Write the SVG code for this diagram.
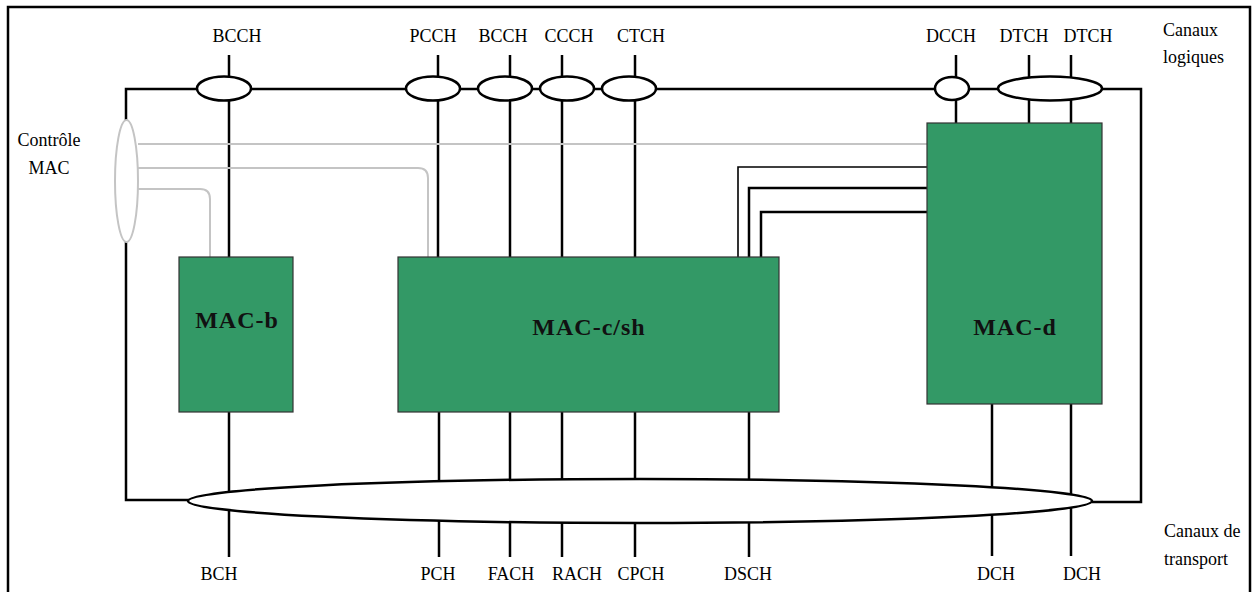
<svg xmlns="http://www.w3.org/2000/svg" width="1254" height="592" viewBox="0 0 1254 592">
<style>
.ln{stroke:#000;stroke-width:2.5;fill:none}
.thin{stroke:#000;stroke-width:1.6;fill:none}
.gr{stroke:#c4c4c4;stroke-width:2;fill:none}
.ell{stroke:#000;stroke-width:2.5;fill:#fff}
.box{fill:#339966;stroke:#333;stroke-width:1.2}
.lbl{font-family:"Liberation Serif",serif;font-size:18px;fill:#000;text-anchor:middle}
.side{font-family:"Liberation Serif",serif;font-size:18px;fill:#000}
.bt{font-family:"Liberation Serif",serif;font-size:24px;font-weight:bold;fill:#111;text-anchor:middle;letter-spacing:1px}
</style>
<rect x="0" y="0" width="1254" height="592" fill="#fff"/>
<path d="M8 592 V7 H1250 V592" stroke="#000" stroke-width="2.5" fill="none"/>
<g id="connectors">
<!-- frame loops -->
<path class="ln" d="M126 120 V89 H1141 V502 H1092"/>
<path class="ln" d="M126 242 V500 H190"/>
<!-- top channel lines -->
<path class="ln" d="M229 55 V257"/>
<path class="ln" d="M438 55 V257"/>
<path class="ln" d="M510 55 V257"/>
<path class="ln" d="M562 55 V257"/>
<path class="ln" d="M635 55 V257"/>
<path class="ln" d="M956 55 V123"/>
<path class="ln" d="M1029 55 V123"/>
<path class="ln" d="M1071 55 V123"/>
<!-- control lines -->
<path class="gr" d="M138 144 H927"/>
<path class="gr" d="M138 168 H418 Q428 168 428 178 V257"/>
<path class="gr" d="M138 189 H200 Q210 189 210 199 V257"/>
<!-- MAC-c/sh to MAC-d -->
<path class="thin" d="M738 257 V167 H927"/>
<path class="ln" d="M749 257 V188 H927"/>
<path class="ln" d="M761 257 V212 H927"/>
<!-- bottom transport lines -->
<path class="ln" d="M229 412 V557"/>
<path class="ln" d="M439 412 V557"/>
<path class="ln" d="M510 412 V557"/>
<path class="ln" d="M562 412 V557"/>
<path class="ln" d="M635 412 V557"/>
<path class="ln" d="M749 412 V557"/>
<path class="ln" d="M992 404 V556"/>
<path class="ln" d="M1071 404 V556"/>
<!-- ellipses -->
<ellipse class="ell" cx="224" cy="88.5" rx="27" ry="12"/>
<ellipse class="ell" cx="433" cy="88.5" rx="27" ry="12"/>
<ellipse class="ell" cx="505" cy="88.5" rx="27" ry="12"/>
<ellipse class="ell" cx="567" cy="88.5" rx="27" ry="12"/>
<ellipse class="ell" cx="629" cy="88.5" rx="27" ry="12"/>
<ellipse class="ell" cx="952" cy="88.5" rx="17" ry="11.5"/>
<ellipse class="ell" cx="1050" cy="88.5" rx="52" ry="12"/>
<ellipse cx="126.5" cy="181" rx="11.5" ry="61" fill="#fff" stroke="#c4c4c4" stroke-width="2"/>
<ellipse class="ell" cx="640" cy="501" rx="452" ry="22" stroke-width="2"/>
</g>
<g id="mac-b">
<rect class="box" x="179" y="257" width="114" height="155"/>
<text class="bt" x="237" y="328">MAC-b</text>
</g>
<g id="mac-csh">
<rect class="box" x="398" y="257" width="381" height="155"/>
<text class="bt" x="589" y="335">MAC-c/sh</text>
</g>
<g id="mac-d">
<rect class="box" x="927" y="123" width="175" height="281"/>
<text class="bt" x="1015" y="335">MAC-d</text>
</g>
<g id="labels">
<text class="lbl" x="237" y="42">BCCH</text>
<text class="lbl" x="433" y="42">PCCH</text>
<text class="lbl" x="503" y="42">BCCH</text>
<text class="lbl" x="569" y="42">CCCH</text>
<text class="lbl" x="641" y="42">CTCH</text>
<text class="lbl" x="951" y="42">DCCH</text>
<text class="lbl" x="1024" y="42">DTCH</text>
<text class="lbl" x="1088" y="42">DTCH</text>
<text class="side" x="1163" y="36">Canaux</text>
<text class="side" x="1163" y="63">logiques</text>
<text class="lbl" x="49" y="146">Contrôle</text>
<text class="lbl" x="49" y="174">MAC</text>
<text class="lbl" x="219" y="580">BCH</text>
<text class="lbl" x="438" y="580">PCH</text>
<text class="lbl" x="511" y="580">FACH</text>
<text class="lbl" x="577" y="580">RACH</text>
<text class="lbl" x="641" y="580">CPCH</text>
<text class="lbl" x="748" y="580">DSCH</text>
<text class="lbl" x="996" y="580">DCH</text>
<text class="lbl" x="1082" y="580">DCH</text>
<text class="side" x="1164" y="537">Canaux de</text>
<text class="side" x="1164" y="565">transport</text>
</g>
</svg>
